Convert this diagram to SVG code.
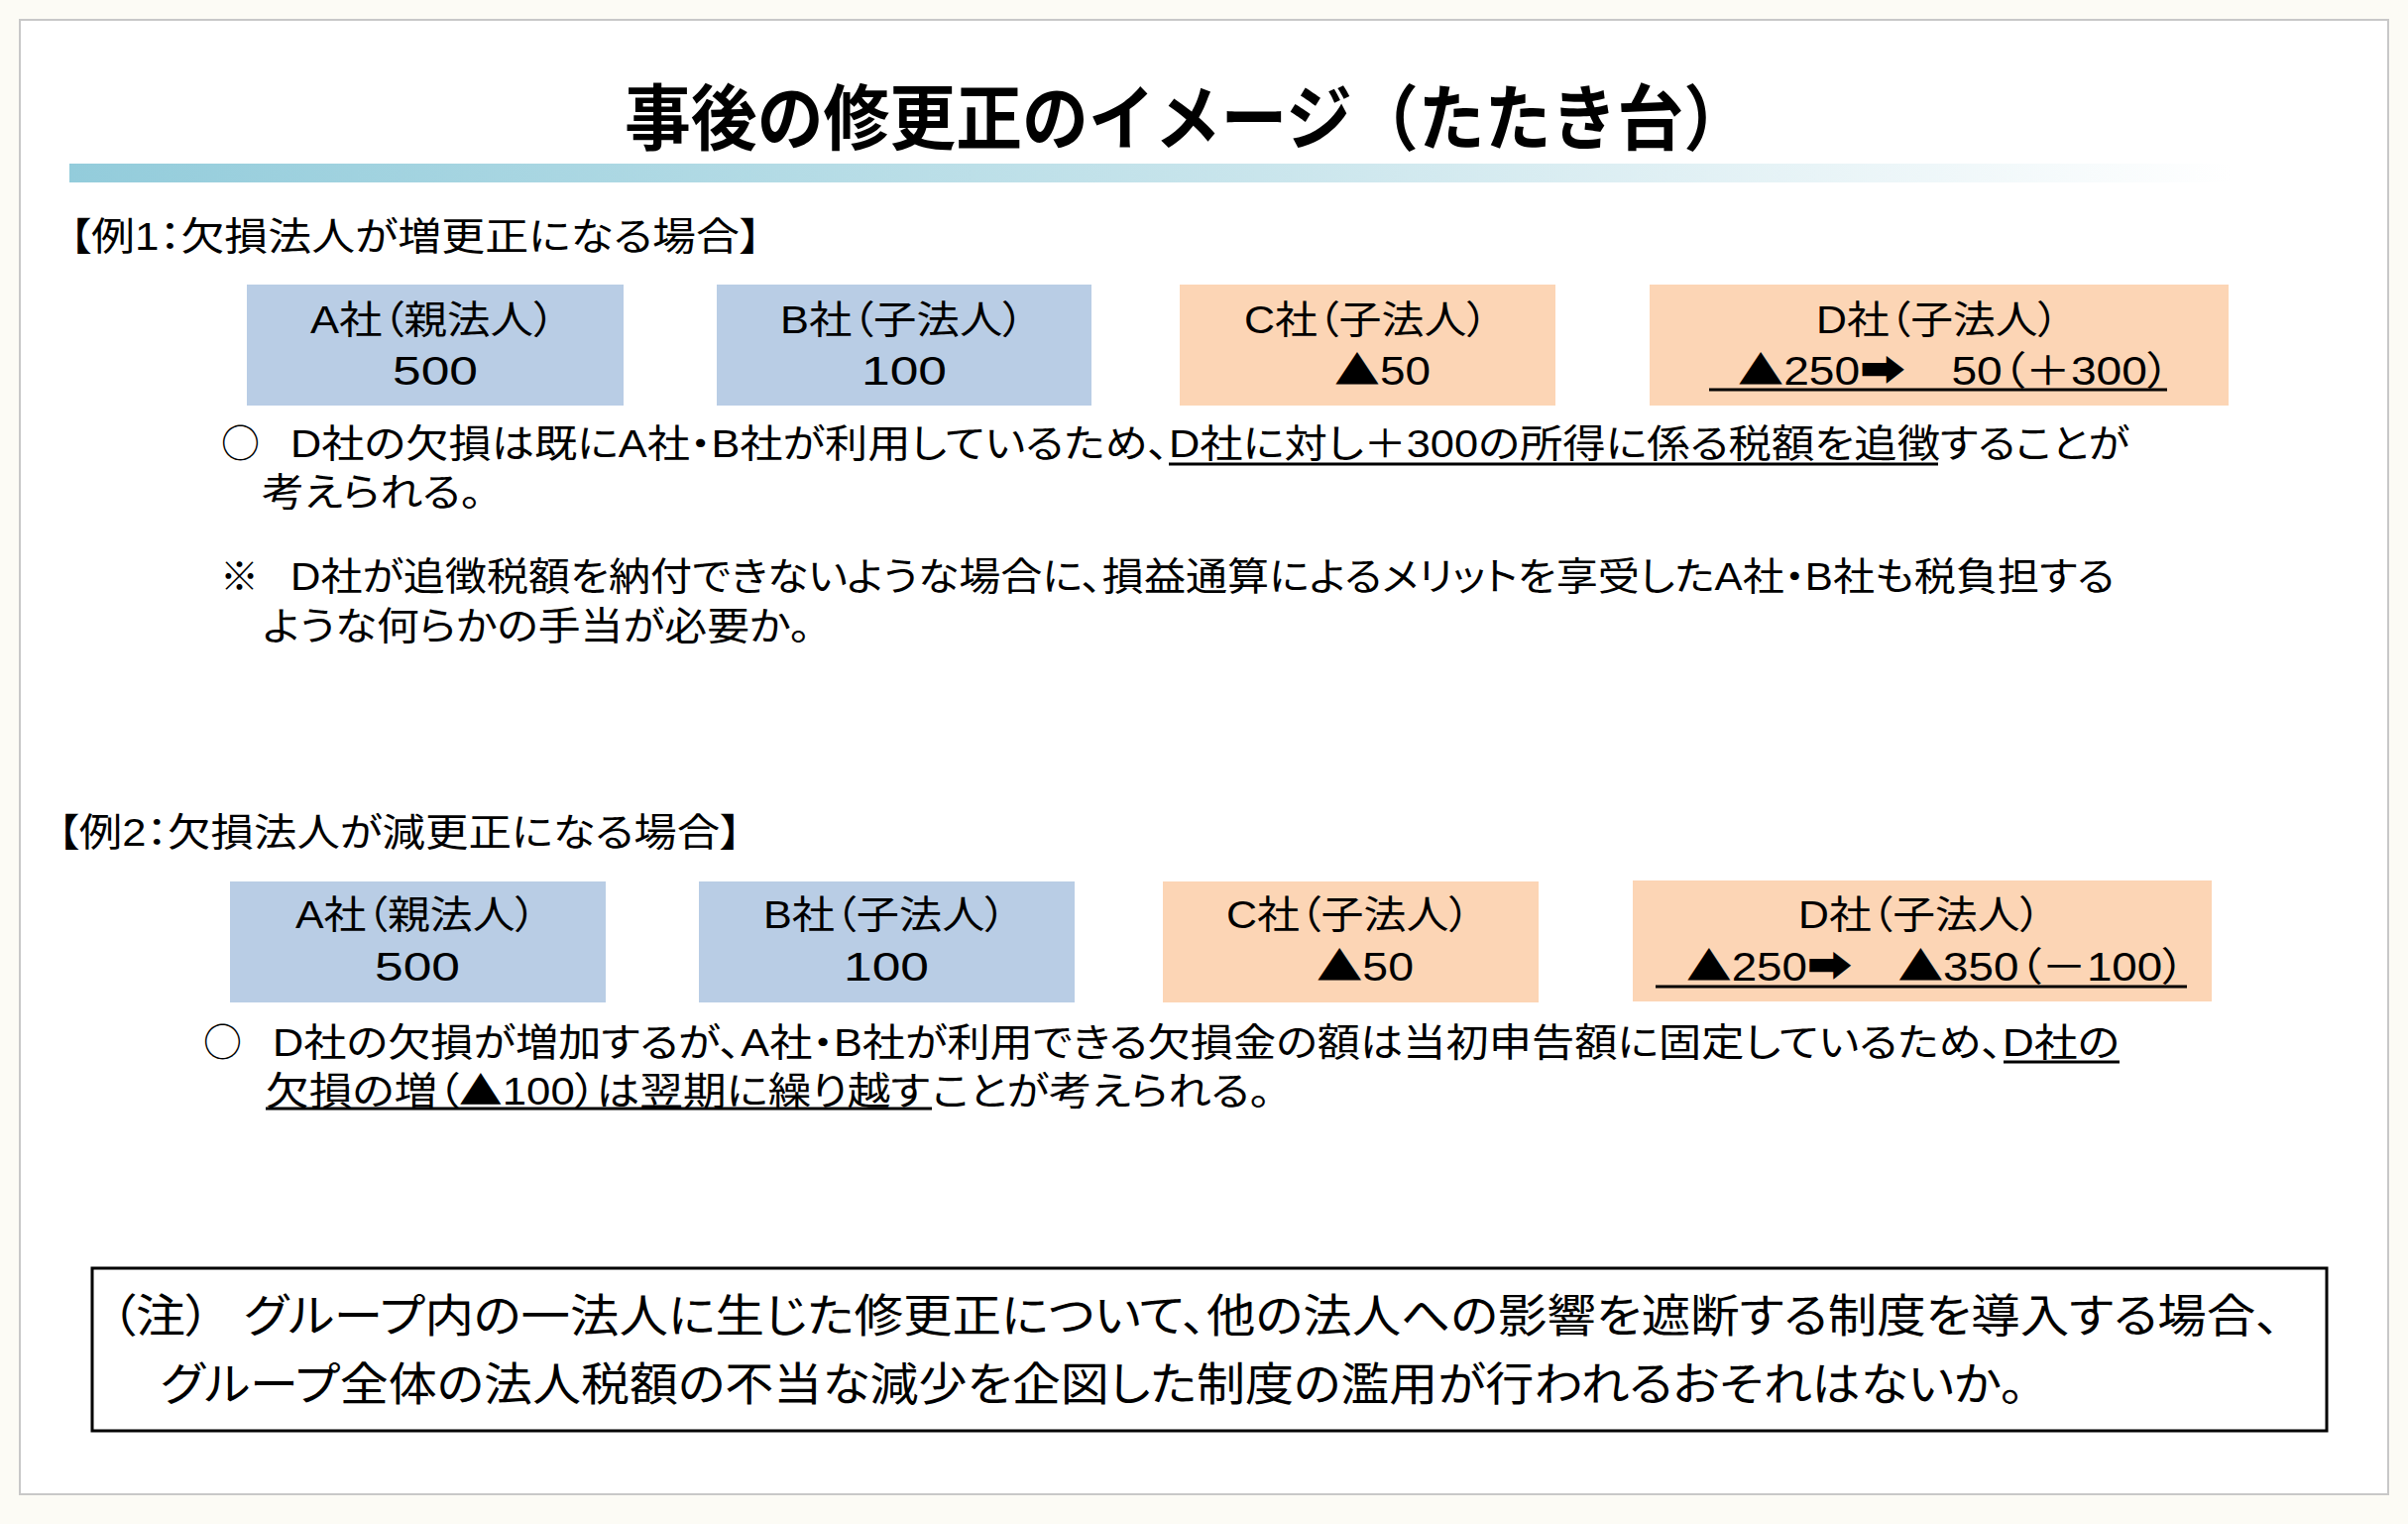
<svg xmlns="http://www.w3.org/2000/svg" width="2429" height="1537" viewBox="0 0 2429 1537">
<defs>
<linearGradient id="bar" x1="0" y1="0" x2="1" y2="0">
<stop offset="0" stop-color="#93ccdb"/>
<stop offset="0.55" stop-color="#c9e5ec"/>
<stop offset="1" stop-color="#ffffff"/>
</linearGradient>
<style>
.t{font-family:"Liberation Sans","Noto Sans CJK JP","DejaVu Sans",sans-serif;fill:#000;font-feature-settings:"palt"}
.cj{font-family:"Noto Sans CJK JP","DejaVu Sans",sans-serif}
.title{font-family:"Noto Sans CJK JP",sans-serif;font-size:72px;font-weight:700;fill:#000}
.h{font-size:39px}
.p{font-size:39px}
.bx{font-size:39px}
.num{font-size:40px}
.note{font-size:46px}
.blue{fill:#b9cde5}
.peach{fill:#fcd5b5}
.ul{stroke:#000;stroke-width:3}
</style>
</defs>
<rect x="0" y="0" width="2429" height="1537" fill="#fcfbf5"/>
<rect x="20" y="20" width="2389" height="1487" fill="#ffffff" stroke="#c8c8c8" stroke-width="2"/>

<g id="title">
<text class="title" x="630" y="145" textLength="1135" lengthAdjust="spacingAndGlyphs">事後の修更正のイメージ（たたき台）</text>
<rect x="70" y="165" width="2180" height="19" fill="url(#bar)"/>
</g>

<g id="example1">
<text class="t h" x="70" y="252" textLength="698" lengthAdjust="spacingAndGlyphs">【例1：欠損法人が増更正になる場合】</text>

<g id="ex1-A">
<rect class="blue" x="249" y="287" width="380" height="122"/>
<text class="t bx" x="313" y="336" textLength="247" lengthAdjust="spacingAndGlyphs">A社（親法人）</text>
<text class="t num" x="439" y="388" text-anchor="middle" textLength="86" lengthAdjust="spacingAndGlyphs">500</text>
</g>
<g id="ex1-B">
<rect class="blue" x="723" y="287" width="378" height="122"/>
<text class="t bx" x="787" y="336" textLength="246" lengthAdjust="spacingAndGlyphs">B社（子法人）</text>
<text class="t num" x="912" y="388" text-anchor="middle" textLength="86" lengthAdjust="spacingAndGlyphs">100</text>
</g>
<g id="ex1-C">
<rect class="peach" x="1190" y="287" width="379" height="122"/>
<text class="t bx" x="1255" y="336" textLength="246" lengthAdjust="spacingAndGlyphs">C社（子法人）</text>
<text class="t num" x="1346" y="388" textLength="97" lengthAdjust="spacingAndGlyphs"><tspan class="cj">▲</tspan>50</text>
</g>
<g id="ex1-D">
<rect class="peach" x="1664" y="287" width="584" height="122"/>
<text class="t bx" x="1832" y="336" textLength="245" lengthAdjust="spacingAndGlyphs">D社（子法人）</text>
<text class="t num" x="1753" y="388" textLength="436" lengthAdjust="spacingAndGlyphs"><tspan class="cj">▲</tspan>250➡　50（＋300）</text>
<line class="ul" x1="1724" y1="393" x2="2186" y2="393"/>
</g>

<g id="ex1-text">
<text class="cj p" x="223" y="461">○</text>
<text class="t p" x="293" y="461" textLength="886" lengthAdjust="spacingAndGlyphs">D社の欠損は既にA社・B社が利用しているため、</text>
<text class="t p" x="1179" y="461" textLength="778" lengthAdjust="spacingAndGlyphs">D社に対し＋300の所得に係る税額を追徴</text>
<text class="t p" x="1957" y="461" textLength="191" lengthAdjust="spacingAndGlyphs">することが</text>
<line class="ul" x1="1179" y1="468" x2="1955" y2="468"/>
<text class="t p" x="264" y="510" textLength="222" lengthAdjust="spacingAndGlyphs">考えられる。</text>
<text class="cj p" x="222" y="595">※</text>
<text class="t p" x="293" y="595" textLength="1840" lengthAdjust="spacingAndGlyphs">D社が追徴税額を納付できないような場合に、損益通算によるメリットを享受したA社・B社も税負担する</text>
<text class="t p" x="265" y="645" textLength="553" lengthAdjust="spacingAndGlyphs">ような何らかの手当が必要か。</text>
</g>
</g>

<g id="example2">
<text class="t h" x="58" y="853" textLength="690" lengthAdjust="spacingAndGlyphs">【例2：欠損法人が減更正になる場合】</text>

<g id="ex2-A">
<rect class="blue" x="232" y="889" width="379" height="122"/>
<text class="t bx" x="298" y="936" textLength="243" lengthAdjust="spacingAndGlyphs">A社（親法人）</text>
<text class="t num" x="421" y="989" text-anchor="middle" textLength="86" lengthAdjust="spacingAndGlyphs">500</text>
</g>
<g id="ex2-B">
<rect class="blue" x="705" y="889" width="379" height="122"/>
<text class="t bx" x="770" y="936" textLength="245" lengthAdjust="spacingAndGlyphs">B社（子法人）</text>
<text class="t num" x="894" y="989" text-anchor="middle" textLength="86" lengthAdjust="spacingAndGlyphs">100</text>
</g>
<g id="ex2-C">
<rect class="peach" x="1173" y="889" width="379" height="122"/>
<text class="t bx" x="1237" y="936" textLength="246" lengthAdjust="spacingAndGlyphs">C社（子法人）</text>
<text class="t num" x="1328" y="989" textLength="98" lengthAdjust="spacingAndGlyphs"><tspan class="cj">▲</tspan>50</text>
</g>
<g id="ex2-D">
<rect class="peach" x="1647" y="888" width="584" height="122"/>
<text class="t bx" x="1814" y="936" textLength="245" lengthAdjust="spacingAndGlyphs">D社（子法人）</text>
<text class="t num" x="1701" y="989" textLength="503" lengthAdjust="spacingAndGlyphs"><tspan class="cj">▲</tspan>250➡　<tspan class="cj">▲</tspan>350（－100）</text>
<line class="ul" x1="1670" y1="995" x2="2206" y2="995"/>
</g>

<g id="ex2-text">
<text class="cj p" x="205" y="1065">○</text>
<text class="t p" x="275" y="1065" textLength="1745" lengthAdjust="spacingAndGlyphs">D社の欠損が増加するが、A社・B社が利用できる欠損金の額は当初申告額に固定しているため、</text>
<text class="t p" x="2020" y="1065" textLength="118" lengthAdjust="spacingAndGlyphs">D社の</text>
<line class="ul" x1="2021" y1="1071" x2="2138" y2="1071"/>
<text class="t p" x="268" y="1114" textLength="670" lengthAdjust="spacingAndGlyphs">欠損の増（<tspan class="cj">▲</tspan>100）は翌期に繰り越す</text>
<text class="t p" x="940" y="1114" textLength="342" lengthAdjust="spacingAndGlyphs">ことが考えられる。</text>
<line class="ul" x1="268" y1="1118" x2="940" y2="1118"/>
</g>
</g>

<g id="note">
<rect x="93" y="1279" width="2254" height="164" fill="#ffffff" stroke="#000" stroke-width="3"/>
<text class="t note" x="112" y="1343" textLength="100" lengthAdjust="spacingAndGlyphs">（注）</text>
<text class="t note" x="246" y="1343" textLength="2054" lengthAdjust="spacingAndGlyphs">グループ内の一法人に生じた修更正について、他の法人への影響を遮断する制度を導入する場合、</text>
<text class="t note" x="162" y="1412" textLength="1880" lengthAdjust="spacingAndGlyphs">グループ全体の法人税額の不当な減少を企図した制度の濫用が行われるおそれはないか。</text>
</g>

<g id="connectors"/>
</svg>
